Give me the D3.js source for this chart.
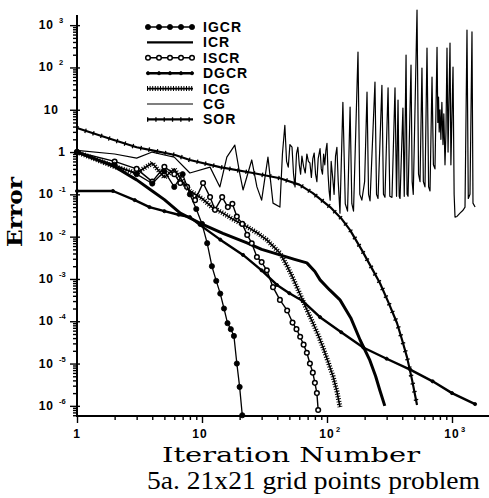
<!DOCTYPE html>
<html>
<head>
<meta charset="utf-8">
<script src="https://cdn.jsdelivr.net/npm/d3@7"></script>
<style>
  body { margin: 0; background: #fff; }
  svg { display: block; }
</style>
</head>
<body>
<svg id="chart" width="489" height="498"></svg>
<script>
// Convergence histories, [iteration, error]
const igcr = [[1,1.0],[2,0.5],[3,0.3],[4,0.18],[5,0.35],[6,0.15],[7,0.3],[8,0.1],[9,0.045],[10,0.02],[11,0.007],[12,0.002],
  [13,0.0009],[14,4.5e-4],[15,2e-4],[16,9e-5],[17,6.5e-5],[18,4.5e-5],[19,1e-5],[20,2.8e-6],[21,6e-7]];
const icr = [[1,1.0],[2,0.45],[3,0.22],[4,0.12],[5,0.075],[6.7,0.036],[9.6,0.021],[14.7,0.012],[22.9,0.0071],[30,0.005],
  [42,0.0037],[55,0.0029],[69,0.0024],[80,0.0015],[88,9.5e-4],[105,5.5e-4],[127,3.2e-4],[155,1.2e-4],[184,3.6e-5],
  [220,1.2e-5],[245,5e-6],[265,2.3e-6],[290,1.0e-6]];
const iscr = [[1,1.0],[2,0.6],[3,0.4],[4,0.2],[5,0.45],[6,0.3],[6.7,0.185],[7.6,0.15],[8.8,0.073],[10.2,0.185],[11.6,0.086],
  [12.7,0.043],[14.5,0.086],[16.1,0.05],[17.5,0.06],[19,0.03],[21,0.02],[23,0.011],[25,0.007],[27.5,0.0033],[30,0.0025],
  [33,0.0016],[37,6.4e-4],[42,3.2e-4],[48,1.8e-4],[53,9.3e-5],[57,6.5e-5],[61,4.3e-5],[65,2.8e-5],[69,1.8e-5],[73,1.0e-5],
  [77,6.1e-6],[80,3.5e-6],[83,2.0e-6],[85,8e-7]];
const dgcr = [[1,0.12],[1.94,0.12],[2.9,0.073],[3.8,0.05],[5,0.04],[6.5,0.033],[8,0.029],[9.6,0.019],[14,0.0085],[21.3,0.0037],
  [30,0.0016],[39.8,7.2e-4],[50,4.6e-4],[64,3.0e-4],[88,1.25e-4],[130,5.5e-5],[195,2.4e-5],[300,1.3e-5],[463,7.2e-6],
  [700,3.8e-6],[1000,2e-6],[1530,1.1e-6]];
const icg = [[1,1.0],[2,0.45],[3,0.32],[4,0.55],[5,0.25],[6,0.4],[7,0.2],[8,0.12],[10,0.08],[12,0.05],[14.7,0.036],[18,0.025],
  [23,0.017],[28,0.012],[33,0.0084],[42,0.0041],[48,0.002],[53,0.0011],[58,6e-4],[64,3.1e-4],[70,1.7e-4],[77,9.2e-5],
  [85,4.7e-5],[93,2.4e-5],[102,1.1e-5],[112,4.9e-6],[120,2.2e-6],[127,9.4e-7]];
const cg = [[1,1.1],[2,0.9],[3,0.72],[4,1.0],[5,0.85],[6,0.76],[8,0.32],[11.6,0.44],[13.9,0.15],[15.8,0.76],[18.3,1.46],[20,0.32],
  [21.3,0.127],[25,0.65],[27.5,0.15],[30,0.073],[33.7,0.76],[37,0.062],[42,0.05],
  [44,0.9],[46,4.3],[47.5,0.6],[49,0.44],[50.5,1.5],[52.5,1.3],[54,0.3],[55.5,0.15],[57,0.9],[58.5,1.3],[60,0.5],[61.5,0.3],
  [63,0.8],[65,0.45],[67,0.32],[69,0.9],[71,0.6],[73,0.55],[75,0.25],[77,0.7],[79,0.95],[81,0.3],[83,0.2],[85,0.7],[88,1.2],
  [90,0.4],[92,0.3],[94,0.9],[96,0.5],[98,1.1],[100,1.6],[102,0.3],[104,0.12],[106,0.073],[108,0.6],[111,0.25],[114,0.1],
  [117,0.8],[120,1.3],[123,0.2],[127,0.036],
  [134,15],[140,0.06],[146,0.04],[153,11.6],[158,0.06],[163,0.04],[177,231],[183,0.1],[190,0.073],[200,0.2],[209,26],
  [215,0.1],[221,0.07],[242,45],[249,0.1],[256,0.08],[275,38],[283,0.1],[291,0.085],[308,33],[318,0.09],[331,0.085],
  [350,33],[360,0.09],[370,17],[378,0.09],[384,0.08],[405,11],[415,0.09],[429,196],[437,0.1],[445,0.09],[470,114],
  [480,0.2],[490,0.1],[525,2275],[540,0.3],[555,0.2],[575,97],[590,0.2],[608,0.15],[631,288],[650,0.15],[667,0.12],
  [692,59],[710,0.5],[731,0.4],[759,300],[770,5],[780,20],[790,3],[802,10],[815,2],[830,15],[847,1.5],[860,8],[879,0.5],
  [895,3],[912,288],[930,1],[964,377],[980,0.5],[1019,102],[1040,0.1],[1057,0.029],[1096,0.03],[1159,0.036],[1225,0.042],
  [1271,0.05],[1318,766],[1350,0.08],[1393,0.1],[1445,690],[1472,0.062],[1530,0.05]];
const sor = [[1,3.7],[2,1.9],[3,1.3],[4,1.1],[6.1,0.85],[8,0.65],[13.9,0.44],[25.6,0.32],[42,0.24],[60,0.17],[77,0.107],
  [106,0.05],[130,0.027],[153,0.0143],[190,0.0048],[228,0.0018],[265,8e-4],[310,2.8e-4],[363,9.1e-5],[400,3.5e-5],
  [437,1.4e-5],[480,4e-6],[525,1.05e-6]];

const legendNames = ['IGCR', 'ICR', 'ISCR', 'DGCR', 'ICG', 'CG', 'SOR'];
const xMajor = [1, 10, 100, 1000];
const yMajor = [1e-6, 1e-5, 1e-4, 1e-3, 1e-2, 1e-1, 1, 10, 100, 1000];

const series = {
  IGCR: { data: igcr, w: 1.3, marker: 'dot', r: 2.6 },
  ICR:  { data: icr,  w: 3 },
  ISCR: { data: iscr, w: 1.4, marker: 'open', r: 2.3 },
  DGCR: { data: dgcr, w: 2.4, marker: 'dot', r: 1.6 },
  ICG:  { data: icg,  w: 1.6, hatch: true },
  CG:   { data: cg,   w: 1.2 },
  SOR:  { data: sor,  w: 2.2, ticks: true }
};

const svg = d3.select('#chart');
const x = d3.scaleLog().domain([1, 1977]).range([77, 489]);
const y = d3.scaleLog().domain([Math.pow(10, -6.24), Math.pow(10, 3.24)]).range([416, 15]);

function allTicks(scale) {
  const [a, b] = scale.domain();
  const out = [];
  for (let e = Math.floor(Math.log10(a)); e <= Math.ceil(Math.log10(b)); e++) {
    for (let m = 1; m < 10; m++) {
      const v = m * Math.pow(10, e);
      if (v >= a * 0.999 && v <= b * 1.001) out.push(v);
    }
  }
  return out;
}
const isMajor = v => Math.abs(Math.log10(v) - Math.round(Math.log10(v))) < 1e-6;

// Curves
const line = d3.line().x(d => x(d[0])).y(d => y(d[1]));
const plot = svg.append('g');

function drawPath(g, path, s) {
  g.append('path').attr('d', path).attr('fill', 'none').attr('stroke', '#000')
    .attr('stroke-width', s.w).attr('stroke-linejoin', 'round');
  if (s.hatch) {
    g.append('path').attr('d', path).attr('fill', 'none').attr('stroke', '#000')
      .attr('stroke-width', 5).attr('stroke-dasharray', '1,1.6');
  }
  if (s.ticks) {
    g.append('path').attr('d', path).attr('fill', 'none').attr('stroke', '#000')
      .attr('stroke-width', 4.5).attr('stroke-dasharray', '1.3,7');
  }
}
function drawMarkers(g, pts, s) {
  if (!s.marker) return;
  g.selectAll(null).data(pts).enter().append('circle')
    .attr('cx', d => d[0]).attr('cy', d => d[1]).attr('r', s.r)
    .attr('fill', s.marker === 'open' ? '#fff' : '#000')
    .attr('stroke', '#000').attr('stroke-width', s.marker === 'open' ? 1.5 : 0.8);
}

['CG', 'SOR', 'DGCR', 'ICR', 'ICG', 'ISCR', 'IGCR'].forEach(name => {
  const s = series[name];
  const g = plot.append('g');
  drawPath(g, line(s.data), s);
  drawMarkers(g, s.data.map(d => [x(d[0]), y(d[1])]), s);
});

// Y axis
const yAxis = d3.axisLeft(y).tickValues(allTicks(y)).tickSize(4).tickSizeOuter(0).tickFormat('');
const gy = svg.append('g').attr('transform', 'translate(77,0)').call(yAxis);
gy.select('.domain').remove();
gy.selectAll('.tick line').attr('stroke', '#000').attr('stroke-width', 1.4)
  .attr('x1', d => isMajor(d) ? 3 : 1).attr('x2', d => isMajor(d) ? -7 : -4);
gy.append('line').attr('x1', 0).attr('x2', 0).attr('y1', 15).attr('y2', 417)
  .attr('stroke', '#000').attr('stroke-width', 2);

// X axis
const xAxis = d3.axisBottom(x).tickValues(allTicks(x)).tickSize(4).tickSizeOuter(0).tickFormat('');
const gx = svg.append('g').attr('transform', 'translate(0,416)').call(xAxis);
gx.select('.domain').remove();
gx.selectAll('.tick line').attr('stroke', '#000').attr('stroke-width', 1.4)
  .attr('y2', d => isMajor(d) ? 7 : 4);
gx.append('line').attr('x1', 76).attr('x2', 489).attr('y1', 0).attr('y2', 0)
  .attr('stroke', '#000').attr('stroke-width', 2);

// Tick labels with superscript exponents
const tickFont = '"Liberation Sans", Arial, sans-serif';
yMajor.forEach(v => {
  const e = Math.round(Math.log10(v));
  const ty = y(v) + 4;
  if (e === 0 || e === 1) {
    svg.append('text').attr('x', e === 0 ? 66 : 59).attr('y', ty).attr('text-anchor', 'end')
      .attr('font-family', tickFont).attr('font-weight', 'bold').attr('font-size', 12)
      .attr('letter-spacing', 1).text(e === 0 ? '1' : '10');
  } else {
    svg.append('text').attr('x', 54).attr('y', ty).attr('text-anchor', 'end')
      .attr('font-family', tickFont).attr('font-weight', 'bold').attr('font-size', 12)
      .attr('letter-spacing', 1).text('10');
    svg.append('text').attr('x', 59).attr('y', ty - 6)
      .attr('font-family', tickFont).attr('font-weight', 'bold').attr('font-size', 7.5)
      .text(e < 0 ? '-' + (-e) : String(e));
  }
});
xMajor.forEach(v => {
  const e = Math.round(Math.log10(v));
  const tx = x(v);
  svg.append('text').attr('x', e === 1 ? tx - 2 : tx).attr('y', 438).attr('text-anchor', 'middle')
    .attr('font-family', tickFont).attr('font-weight', 'bold').attr('font-size', 12)
    .attr('letter-spacing', 1).text(e === 0 ? '1' : '10');
  if (e > 1) {
    svg.append('text').attr('x', tx + 9).attr('y', 432)
      .attr('font-family', tickFont).attr('font-weight', 'bold').attr('font-size', 7.5)
      .text(String(e));
  }
});

// Axis titles and caption
svg.append('text').attr('transform', 'translate(22,212) rotate(-90)').attr('text-anchor', 'middle')
  .attr('font-family', '"DejaVu Serif", serif').attr('font-weight', 'bold').attr('font-size', 20)
  .attr('textLength', 70).attr('lengthAdjust', 'spacingAndGlyphs').text('Error');
svg.append('text').attr('x', 162).attr('y', 462)
  .attr('font-family', '"DejaVu Serif", serif').attr('font-size', 20)
  .attr('textLength', 258).attr('lengthAdjust', 'spacingAndGlyphs').text('Iteration Number');
svg.append('text').attr('x', 147).attr('y', 489)
  .attr('font-family', '"Liberation Serif", "Times New Roman", serif').attr('font-size', 26)
  .attr('textLength', 333).attr('lengthAdjust', 'spacingAndGlyphs').text('5a. 21x21 grid points problem');

// Legend
const legend = svg.append('g');
legendNames.forEach((name, i) => {
  const s = series[name];
  const ly = 27 + i * 15.4;
  const g = legend.append('g');
  const p = d3.path();
  p.moveTo(147, ly); p.lineTo(193, ly);
  drawPath(g, p.toString(), Object.assign({}, s, { w: Math.min(s.w, 2.4) }));
  drawMarkers(g, d3.range(5).map(k => [148 + k * 11, ly]), s);
  g.append('text').attr('x', 203).attr('y', ly + 5)
    .attr('font-family', tickFont).attr('font-weight', 'bold').attr('font-size', 14)
    .attr('letter-spacing', 1).text(name);
});
</script>
</body>
</html>
